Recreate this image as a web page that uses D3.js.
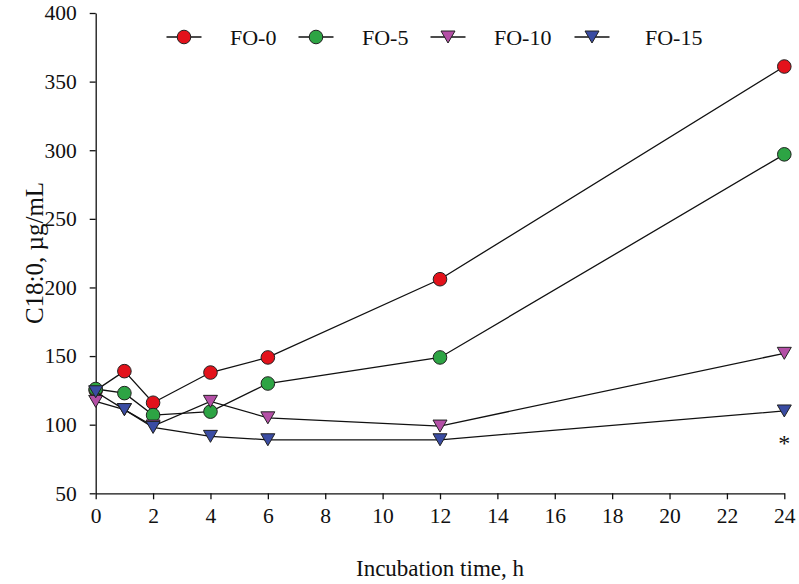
<!DOCTYPE html>
<html><head><meta charset="utf-8">
<script src="https://cdn.jsdelivr.net/npm/d3@7"></script>
<style>body{margin:0;background:#fff}svg{display:block}text{font-family:"Liberation Serif","Times New Roman",serif;fill:#111}</style>
</head><body><svg id="c" width="799" height="584"></svg>
<script>
const times = [0, 1, 2, 4, 6, 12, 24];
const seriesNames = ["FO-0", "FO-5", "FO-10", "FO-15"];
const fo0 = [125, 139, 116, 138, 149, 206, 361];
const fo5 = [126, 123, 107, 109.5, 130, 149, 297];
const fo10 = [117, 111, 99, 117, 105, 99, 152];
const fo15 = [124, 111, 98, 91.5, 89, 89, 110];
const xTicks = [0,2,4,6,8,10,12,14,16,18,20,22,24];
const yTicks = [50,100,150,200,250,300,350,400];
const annotation = {t: 24, v: 88, text: "*"};

const seriesVals = [fo0, fo5, fo10, fo15];
const colors = ["#e3121b", "#2da444", "#b44fa6", "#3a4ca3"];
const shapes = ["circle", "circle", "tri", "tri"];

const svg = d3.select("#c");
const x = d3.scaleLinear().domain([0, 24]).range([95.7, 784.3]);
const y = d3.scaleLinear().domain([50, 400]).range([493.3, 13]);

const fs = 21.5;
const xAxis = svg.append("g").attr("transform", "translate(0,493.3)")
  .call(d3.axisBottom(x).tickValues(xTicks).tickSize(6).tickSizeOuter(0).tickPadding(8));
const yAxis = svg.append("g").attr("transform", "translate(95.7,0)")
  .call(d3.axisLeft(y).tickValues(yTicks).tickSize(6).tickSizeOuter(0).tickPadding(13));
[xAxis, yAxis].forEach(a => {
  a.selectAll("path,line").attr("stroke", "#111").attr("stroke-width", 1.3);
  a.selectAll("text").style("font-family", '"Liberation Serif",serif').attr("font-size", fs).attr("fill", "#111");
});

svg.append("text").attr("x", 440).attr("y", 576).attr("text-anchor", "middle").attr("font-size", 23).text("Incubation time, h");
svg.append("text").attr("transform", "translate(43,253) rotate(-90)").attr("text-anchor", "middle").attr("font-size", 25).text("C18:0, µg/mL");

const triPath = "M-7,-6L7,-6L0,6Z";
function marker(g, shape, color, cx, cy) {
  if (shape === "circle") {
    g.append("circle").attr("cx", cx).attr("cy", cy).attr("r", 6.8)
      .attr("fill", color).attr("stroke", "#222").attr("stroke-width", 1);
  } else {
    g.append("path").attr("d", triPath).attr("transform", `translate(${cx},${cy})`)
      .attr("fill", color).attr("stroke", "#222").attr("stroke-width", 1);
  }
}

const line = d3.line().x((d, i) => x(times[i])).y(d => y(d));
seriesVals.forEach((vals, si) => {
  const g = svg.append("g");
  g.append("path").datum(vals).attr("d", line).attr("fill", "none").attr("stroke", "#111").attr("stroke-width", 1.3);
  vals.forEach((v, i) => marker(g, shapes[si], colors[si], x(times[i]), y(v)));
});

svg.append("text").attr("x", x(annotation.t)).attr("y", y(annotation.v) + 10).attr("text-anchor", "middle").attr("font-size", 24).text(annotation.text);

// legend
const legX = [184, 316, 448, 592];
const legTextX = [230, 362, 494, 645];
const legY = 37;
seriesNames.forEach((n, i) => {
  const g = svg.append("g");
  g.append("line").attr("x1", legX[i] - 17.5).attr("x2", legX[i] + 17.5).attr("y1", legY).attr("y2", legY).attr("stroke", "#111").attr("stroke-width", 1.3);
  marker(g, shapes[i], colors[i], legX[i], legY);
  g.append("text").attr("x", legTextX[i]).attr("y", legY + 8).attr("font-size", 22).text(n);
});
</script></body></html>
